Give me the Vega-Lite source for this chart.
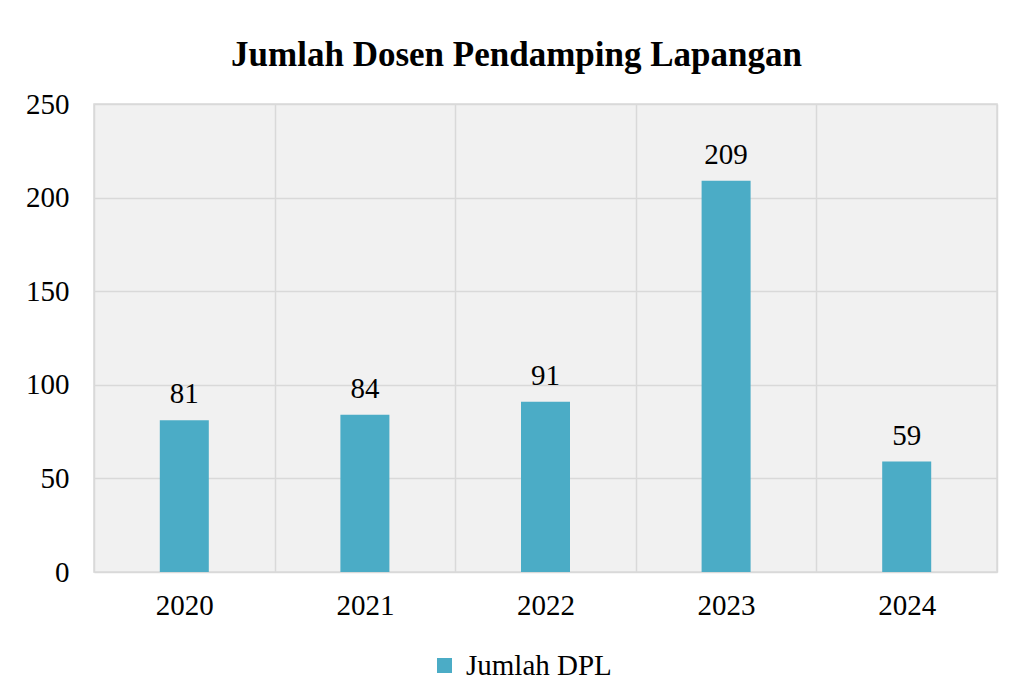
{
  "$schema": "https://vega.github.io/schema/vega-lite/v6.json",
  "width": 903,
  "height": 468,
  "autosize": "none",
  "padding": {"left": 94, "top": 104, "right": 20, "bottom": 125},
  "background": "white",
  "title": {
    "text": "Jumlah Dosen Pendamping Lapangan",
    "font": "Liberation Serif",
    "fontSize": 35,
    "fontWeight": "bold",
    "color": "black",
    "anchor": "middle",
    "frame": "group",
    "dx": -29,
    "offset": 17
  },
  "data": {
    "values": [
      {"tahun": "2020", "jumlah": 81, "seri": "Jumlah DPL"},
      {"tahun": "2021", "jumlah": 84, "seri": "Jumlah DPL"},
      {"tahun": "2022", "jumlah": 91, "seri": "Jumlah DPL"},
      {"tahun": "2023", "jumlah": 209, "seri": "Jumlah DPL"},
      {"tahun": "2024", "jumlah": 59, "seri": "Jumlah DPL"}
    ]
  },
  "encoding": {
    "x": {
      "field": "tahun",
      "type": "nominal",
      "scale": {"paddingInner": 0, "paddingOuter": 0},
      "axis": {
        "title": null,
        "labelAngle": 0,
        "labelFont": "Liberation Serif",
        "labelFontSize": 29,
        "labelColor": "black",
        "labelPadding": 19,
        "ticks": false,
        "tickSize": 0,
        "domain": false,
        "grid": true,
        "tickBand": "extent",
        "gridColor": "#d9d9d9",
        "gridWidth": 1.5
      }
    },
    "y": {
      "field": "jumlah",
      "type": "quantitative",
      "scale": {"domain": [0, 250], "nice": false},
      "axis": {
        "title": null,
        "values": [0, 50, 100, 150, 200, 250],
        "labelFont": "Liberation Serif",
        "labelFontSize": 29,
        "labelColor": "black",
        "labelPadding": 25,
        "ticks": false,
        "tickSize": 0,
        "domain": false,
        "grid": true,
        "gridColor": "#d9d9d9",
        "gridWidth": 1.5
      }
    }
  },
  "layer": [
    {
      "mark": {"type": "bar", "size": 49},
      "encoding": {
        "color": {
          "field": "seri",
          "type": "nominal",
          "scale": {"range": ["#4bacc6"]},
          "legend": {
            "title": null,
            "orient": "none",
            "legendX": 336,
            "legendY": 547,
            "labelFont": "Liberation Serif",
            "labelFontSize": 29,
            "labelColor": "black",
            "symbolType": "square",
            "symbolSize": 225,
            "symbolStrokeWidth": 0,
            "labelOffset": 7
          }
        }
      }
    },
    {
      "mark": {
        "type": "text",
        "font": "Liberation Serif",
        "fontSize": 29,
        "color": "black",
        "baseline": "alphabetic",
        "dy": -17
      },
      "encoding": {"text": {"field": "jumlah", "type": "quantitative"}}
    }
  ],
  "config": {
    "view": {"stroke": "#d9d9d9", "strokeWidth": 1.5, "fill": "#f1f1f1"}
  }
}
